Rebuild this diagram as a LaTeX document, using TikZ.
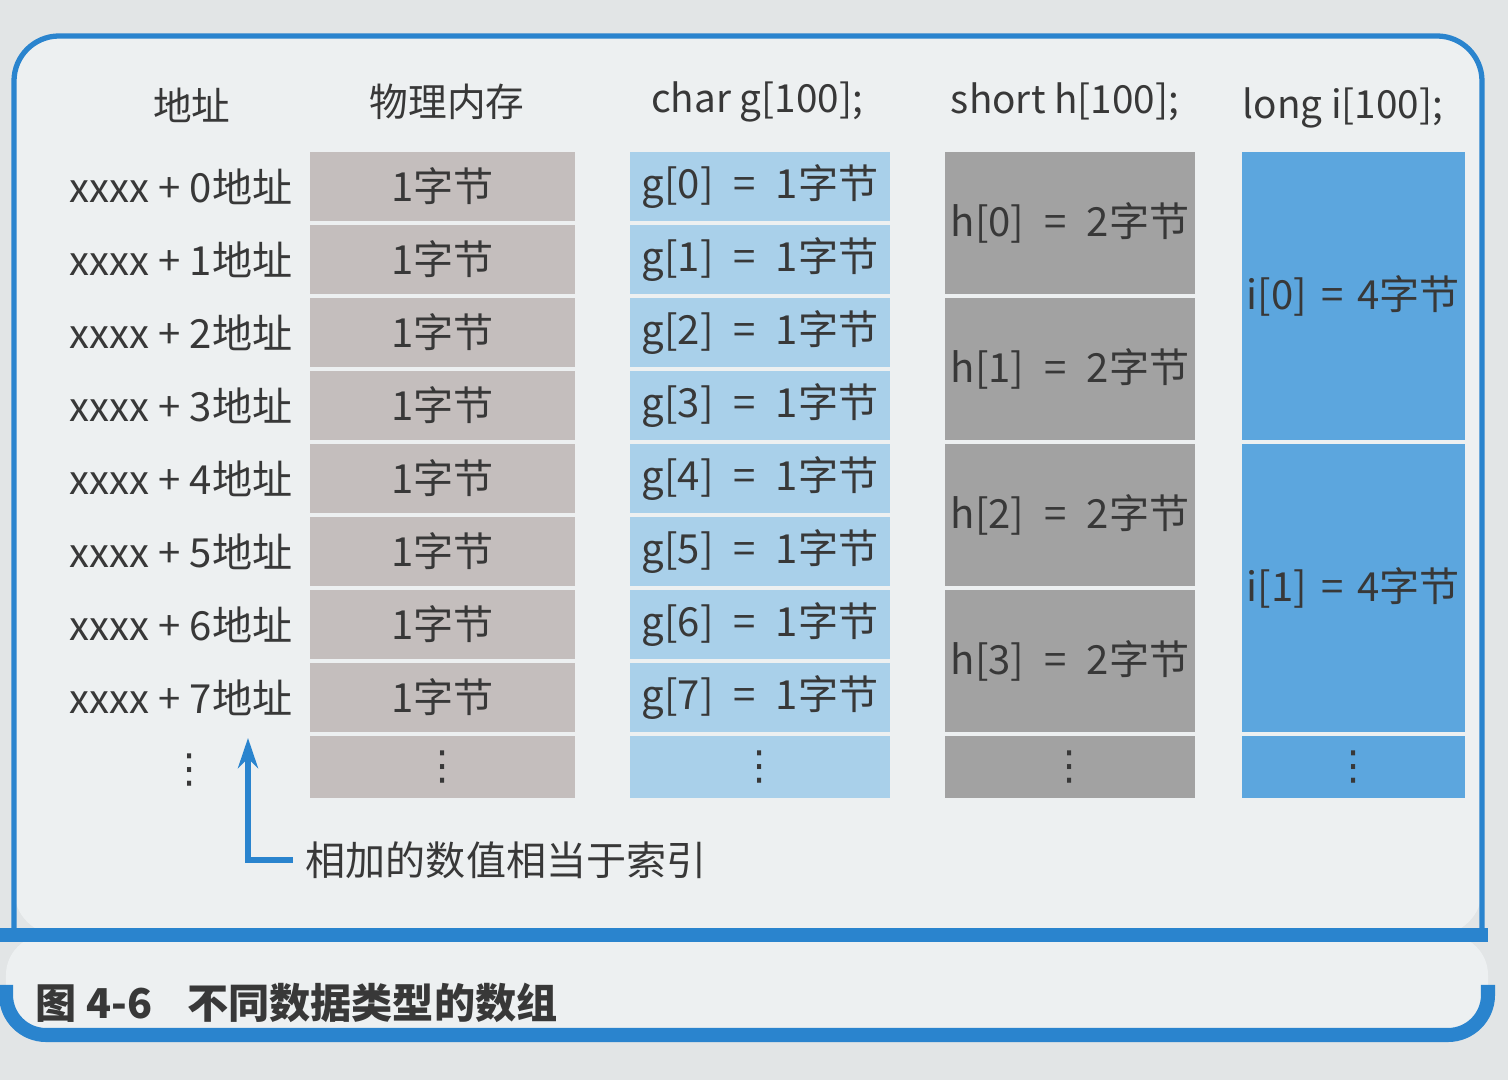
\documentclass[tikz,border=0pt]{standalone}
\usepackage{fontspec}
\setmainfont{Noto Sans CJK SC}
\newfontfamily\dejavu{DejaVu Sans}
\usetikzlibrary{arrows.meta}
\definecolor{pagebg}{HTML}{E2E5E6}
\definecolor{innerbg}{HTML}{EDF0F1}
\definecolor{frameblue}{HTML}{2A84CE}
\definecolor{memcol}{HTML}{C4BEBD}
\definecolor{gcol}{HTML}{A9D0EA}
\definecolor{hcol}{HTML}{A2A2A2}
\definecolor{icol}{HTML}{5CA6DE}
\definecolor{txt}{HTML}{383838}
\newcommand{\vdts}{{\dejavu ⋮}}
\tikzset{
  base/.style={font=\fontsize{11.4}{13}\selectfont, text=txt, inner sep=0pt},
  cell/.style={base, draw=none, anchor=center},
  memcell/.style={cell, fill=memcol, minimum width=2.65cm},
  gcell/.style={cell, fill=gcol, minimum width=2.60cm},
  hcell/.style={cell, fill=hcol, minimum width=2.50cm},
  icell/.style={cell, fill=icol, minimum width=2.23cm},
  addr/.style={base, anchor=east},
  head/.style={base, font=\fontsize{11}{13}\selectfont},
  frameline/.style={draw=frameblue, line width=1.5pt},
  band/.style={draw=frameblue, line width=4pt},
  pointer/.style={draw=frameblue, line width=1.7pt, -{Stealth[length=0.3cm,width=0.2cm]}},
}
\begin{document}
\begin{tikzpicture}[x=0.01cm,y=-0.01cm]
\useasboundingbox (0,0) rectangle (1508,1080);
\fill[pagebg] (0,0) rectangle (1508,1080);
% frame
\fill[innerbg, rounded corners=0.45cm] (14,935) -- (14,36) -- (1482,36) -- (1482,935) -- cycle;
\fill[innerbg, rounded corners=0.4cm] (6,935) -- (6,1035) -- (1488,1035) -- (1488,935) -- cycle;
\draw[frameline, rounded corners=0.45cm] (14,935) -- (14,36) -- (1482,36) -- (1482,935);
\draw[band] (0,935) -- (1488,935);
\draw[band, rounded corners=0.4cm] (6,985) -- (6,1035) -- (1488,1035) -- (1488,985);
% headers
\node[head] (haddr) at (192,105) {地址};
\node[head] (hmem) at (447,102) {物理内存};
\node[head] (hg) at (757,102) {char g[100];};
\node[head] (hh) at (1065,102) {short h[100];};
\node[head] (hi) at (1343,108) {long i[100];};
% 1-byte rows
\foreach \k in {0,...,7} {
  \pgfmathsetmacro\cy{186.5+73*\k}
  \node[addr] (a\k) at (293,\cy) {xxxx + \k{}地址};
  \node[memcell, minimum height=0.69cm] (m\k) at (442.5,\cy) {1字节};
  \node[gcell, minimum height=0.69cm] (g\k) at (760,\cy) {g[\k]\enspace=\enspace1字节};
}
% 2-byte rows
\foreach \k in {0,...,3} {
  \pgfmathsetmacro\cy{223+146*\k}
  \node[hcell, minimum height=1.42cm] (h\k) at (1070,\cy) {h[\k]\enspace=\enspace2字节};
}
% 4-byte rows
\foreach \k in {0,1} {
  \pgfmathsetmacro\cy{296+292*\k}
  \node[icell, minimum height=2.88cm] (i\k) at (1353.5,\cy) {i[\k]\hspace{0.14cm}=\hspace{0.14cm}4字节};
}
% continuation rows
\node[base] (ad) at (190,770) {\vdts};
\node[memcell, minimum height=0.62cm] (md) at (442.5,767) {\vdts};
\node[gcell, minimum height=0.62cm] (gd) at (760,767) {\vdts};
\node[hcell, minimum height=0.62cm] (hd) at (1070,767) {\vdts};
\node[icell, minimum height=0.62cm] (id) at (1353.5,767) {\vdts};
% index note
\node[base, anchor=west] (note) at (305,860) {相加的数值相当于索引};
\coordinate (tip) at (248,738);
\draw[pointer] ([xshift=-0.12cm]note.west) -| (tip);
% caption
\node[base, anchor=west, font=\fontsize{11.7}{13}\selectfont\bfseries] (cap) at (35,1003) {图 4-6\hspace{0.35cm}不同数据类型的数组};
\end{tikzpicture}
\end{document}
